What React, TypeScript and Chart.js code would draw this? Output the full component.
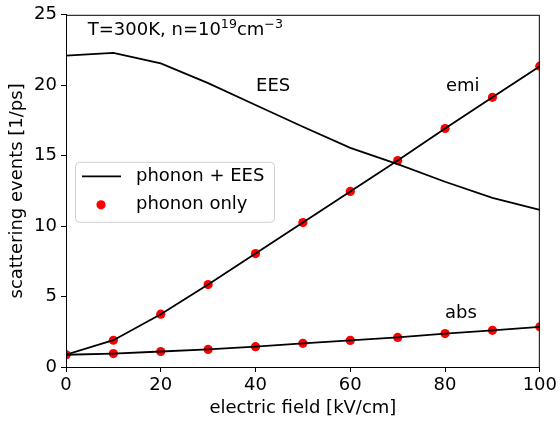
import React, { useEffect, useRef } from "react";
import { Chart, registerables } from "chart.js";

Chart.register(...registerables);

const fieldValues = [0, 10, 20, 30, 40, 50, 60, 70, 80, 90, 100];
const eesRates = [22.1, 22.3, 21.55, 20.15, 18.6, 17.05, 15.55, 14.4, 13.15, 12.0, 11.15];
const emiRates = [0.87, 1.9, 3.75, 5.85, 8.05, 10.25, 12.46, 14.65, 16.93, 19.14, 21.35];
const absRates = [0.87, 0.95, 1.1, 1.25, 1.44, 1.68, 1.89, 2.1, 2.37, 2.6, 2.85];
const xTicks = [0, 20, 40, 60, 80, 100];
const yTicks = [0, 5, 10, 15, 20, 25];

const FONT = "'DejaVu Sans', sans-serif";
const FS = 18;

const toPts = (ys: number[]) => fieldValues.map((x, i) => ({ x, y: ys[i] }));

const overlayPlugin = {
  id: "overlay",
  afterDraw(chart: any) {
    const { ctx, chartArea, scales } = chart;
    const xs = scales.x;
    const ys = scales.y;
    ctx.save();
    // frame (top/right spines)
    ctx.strokeStyle = "#000";
    ctx.lineWidth = 1;
    ctx.strokeRect(chartArea.left + 0.5, chartArea.top + 0.5, chartArea.right - chartArea.left - 1, chartArea.bottom - chartArea.top);

    ctx.fillStyle = "#000";
    ctx.textBaseline = "middle";
    ctx.textAlign = "left";
    ctx.font = `${FS}px ${FONT}`;
    // annotations
    const tx = xs.getPixelForValue(4.6);
    const ty = ys.getPixelForValue(23.9);
    let s = "T=300K, n=10";
    ctx.fillText(s, tx, ty);
    let w = ctx.measureText(s).width;
    ctx.font = `${FS * 0.7}px ${FONT}`;
    ctx.fillText("19", tx + w, ty - 6);
    w += ctx.measureText("19").width;
    ctx.font = `${FS}px ${FONT}`;
    ctx.fillText("cm", tx + w, ty);
    w += ctx.measureText("cm").width;
    ctx.font = `${FS * 0.7}px ${FONT}`;
    ctx.fillText("\u22123", tx + w, ty - 6);
    ctx.font = `${FS}px ${FONT}`;
    ctx.fillText("EES", xs.getPixelForValue(40.1), ys.getPixelForValue(19.9));
    ctx.fillText("emi", xs.getPixelForValue(80.2), ys.getPixelForValue(19.95));
    ctx.fillText("abs", xs.getPixelForValue(80.0), ys.getPixelForValue(3.8));

    // legend
    const lx = chartArea.left + 9;
    const ly = chartArea.top + 147;
    const lw = 199;
    const lh = 60;
    ctx.beginPath();
    ctx.roundRect(lx + 0.5, ly + 0.5, lw, lh, 4);
    ctx.fillStyle = "rgba(255,255,255,0.8)";
    ctx.fill();
    ctx.strokeStyle = "#d0d0d0";
    ctx.lineWidth = 1;
    ctx.stroke();
    ctx.beginPath();
    ctx.moveTo(lx + 7, ly + 14.5);
    ctx.lineTo(lx + 46, ly + 14.5);
    ctx.strokeStyle = "#000";
    ctx.lineWidth = 1.8;
    ctx.stroke();
    ctx.beginPath();
    ctx.arc(lx + 26, ly + 43, 4.6, 0, Math.PI * 2);
    ctx.fillStyle = "#ff0000";
    ctx.fill();
    ctx.fillStyle = "#000";
    ctx.fillText("phonon + EES", lx + 61, ly + 15);
    ctx.fillText("phonon only", lx + 61, ly + 43);
    ctx.restore();
  },
};

export default function App() {
  const ref = useRef<HTMLCanvasElement | null>(null);
  useEffect(() => {
    if (!ref.current) return;
    const lineDs = (label: string, ys: number[]) => ({
      label,
      data: toPts(ys),
      borderColor: "#000",
      backgroundColor: "#000",
      borderWidth: 1.8,
      pointRadius: 0,
      showLine: true,
      fill: false,
      order: 1,
    });
    const dotDs = (label: string, ys: number[]) => ({
      label,
      data: toPts(ys),
      borderColor: "#ff0000",
      backgroundColor: "#ff0000",
      pointRadius: 4.6,
      pointBorderWidth: 0,
      showLine: false,
      order: 2,
    });
    const chart = new Chart(ref.current, {
      type: "scatter",
      data: {
        datasets: [
          lineDs("phonon + EES", eesRates),
          lineDs("phonon + EES emi", emiRates),
          lineDs("phonon + EES abs", absRates),
          dotDs("phonon only emi", emiRates),
          dotDs("phonon only abs", absRates),
        ],
      },
      options: {
        animation: false,
        responsive: false,
        layout: { padding: { top: 14, right: 20, left: 0, bottom: 0 } },
        plugins: { legend: { display: false }, tooltip: { enabled: false } },
        scales: {
          x: {
            type: "linear",
            min: 0,
            max: 100,
            afterFit: (s: any) => { s.height = 56; },
            afterBuildTicks: (s: any) => { s.ticks = xTicks.map((v) => ({ value: v })); },
            ticks: { color: "#000", font: { family: FONT, size: FS }, padding: 3, maxRotation: 0 },
            grid: { drawOnChartArea: false, tickLength: 5, tickColor: "#000", tickWidth: 1 },
            border: { display: true, color: "#000", width: 1 },
            title: { display: true, text: "electric field [kV/cm]", color: "#000", font: { family: FONT, size: FS }, padding: { top: 0, bottom: 4 } },
          },
          y: {
            type: "linear",
            min: 0,
            max: 25,
            afterFit: (s: any) => { s.width = 66; },
            afterBuildTicks: (s: any) => { s.ticks = yTicks.map((v) => ({ value: v })); },
            ticks: { color: "#000", font: { family: FONT, size: FS }, padding: 4 },
            grid: { drawOnChartArea: false, tickLength: 5, tickColor: "#000", tickWidth: 1 },
            border: { display: true, color: "#000", width: 1 },
            title: { display: true, text: "scattering events [1/ps]", color: "#000", font: { family: FONT, size: FS }, padding: { top: 7, bottom: 0 } },
          },
        },
      },
      plugins: [overlayPlugin],
    });
    return () => chart.destroy();
  }, []);
  return (
    <div style={{ position: "fixed", left: 0, top: 0, width: 560, height: 423, background: "#fff" }}>
      <canvas ref={ref} width={560} height={423} style={{ display: "block" }} />
    </div>
  );
}
